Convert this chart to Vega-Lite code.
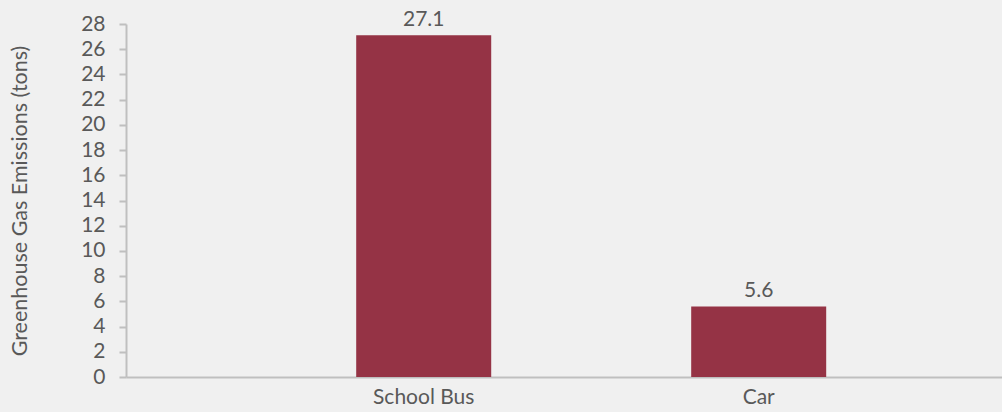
{
  "$schema": "https://vega.github.io/schema/vega-lite/v6.json",
  "width": 876,
  "height": 353,
  "autosize": {"type": "none"},
  "padding": {"left": 126, "top": 24, "right": 0, "bottom": 35},
  "background": "#f0f0f0",
  "config": {
    "view": {"stroke": null},
    "font": "Lato",
    "axis": {"labelFont": "Lato", "titleFont": "Lato", "labelColor": "#595959", "titleColor": "#595959", "domainColor": "#bfbfbf", "tickColor": "#bfbfbf", "domainWidth": 2, "tickWidth": 2}
  },
  "data": {"values": [
    {"vehicle": "School Bus", "emissions": 27.1},
    {"vehicle": "Car", "emissions": 5.6}
  ]},
  "encoding": {
    "x": {"field": "vehicle", "type": "nominal", "sort": null,
      "scale": {"paddingInner": 0.597, "paddingOuter": 0.606, "align": 0.567},
      "axis": {"title": null, "labelAngle": 0, "labelFontSize": 21, "ticks": false, "labelPadding": 9, "grid": false}},
    "y": {"field": "emissions", "type": "quantitative",
      "scale": {"domain": [0, 28], "nice": false},
      "axis": {"title": "Greenhouse Gas Emissions (tons)", "titleFontSize": 21.5, "titleFontWeight": "normal", "titlePadding": 49, "labelFontSize": 21, "values": [0,2,4,6,8,10,12,14,16,18,20,22,24,26,28], "tickSize": 7, "labelPadding": 14, "grid": false}}
  },
  "layer": [
    {"mark": {"type": "bar", "color": "#953345"}},
    {"mark": {"type": "text", "baseline": "alphabetic", "dy": -9, "fontSize": 21, "color": "#595959", "font": "Lato"},
     "encoding": {"text": {"field": "emissions", "type": "quantitative", "format": ".1f"}}}
  ]
}
